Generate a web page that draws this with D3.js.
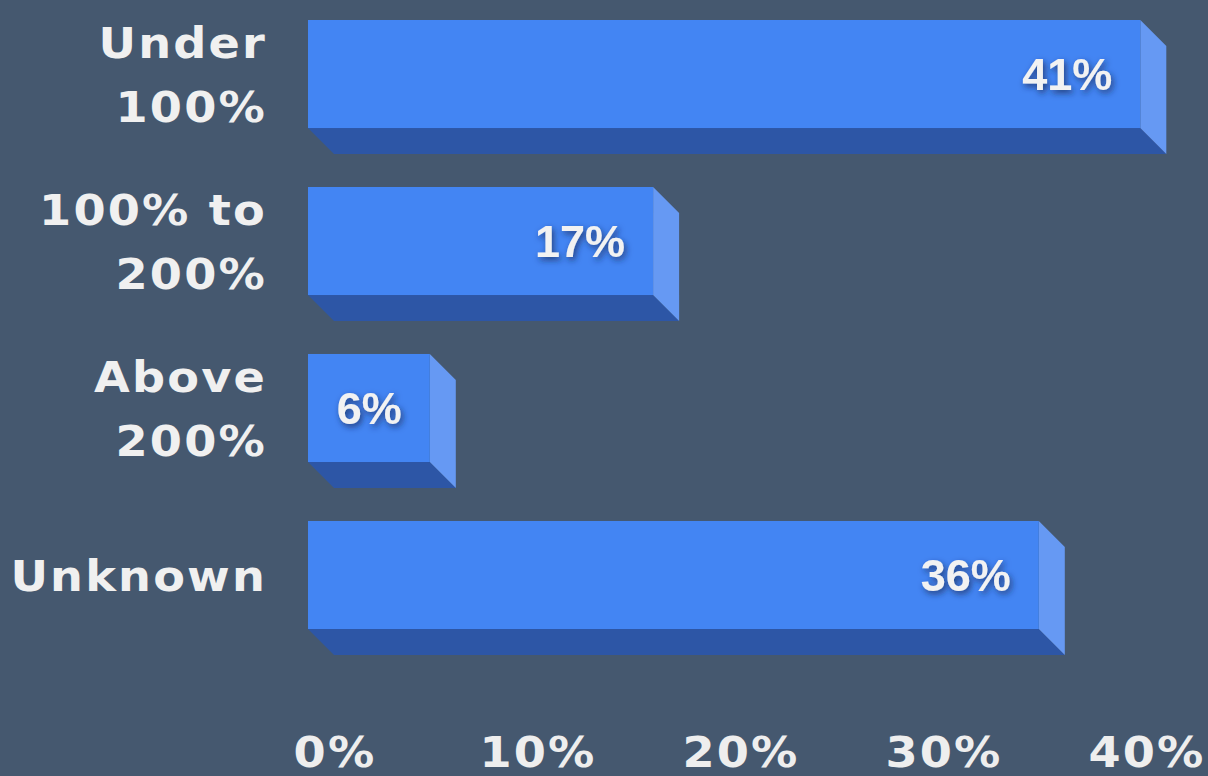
<!DOCTYPE html>
<html>
<head>
<meta charset="utf-8">
<script src="https://cdn.jsdelivr.net/npm/d3@7"></script>
<style>
  html, body { margin: 0; padding: 0; background: #45586f; }
  svg { display: block; }
</style>
</head>
<body>
<div id="chart"></div>
<script>
const categories = [["Under", "100%"], ["100% to", "200%"], ["Above", "200%"], ["Unknown"]];
const values = [41, 17, 6, 36];
const tickValues = [0, 10, 20, 30, 40];

const width = 1208, height = 776;
const depth = 26;
const stretch = 1.1; // Verdana-like wide glyphs

const svg = d3.select("#chart").append("svg")
  .attr("width", width)
  .attr("height", height);

const defs = svg.append("defs");
const shadow = defs.append("filter").attr("id", "txtShadow")
  .attr("x", "-20%").attr("y", "-20%").attr("width", "140%").attr("height", "150%");
shadow.append("feDropShadow")
  .attr("dx", 2).attr("dy", 3).attr("stdDeviation", 3)
  .attr("flood-color", "#1a2a55").attr("flood-opacity", 0.75);

const x = d3.scaleLinear().domain([0, 40]).range([308, 1120]);
const y = d3.scaleBand()
  .domain(d3.range(values.length))
  .range([20, 629])
  .paddingInner(0.353)
  .paddingOuter(0);

const bars = svg.selectAll("g.bar")
  .data(values)
  .enter()
  .append("g")
  .attr("class", "bar");

// bottom face
bars.append("path")
  .attr("fill", "#2d56a6")
  .attr("d", (d, i) => {
    const x0 = x(0), x1 = x(d), yb = y(i) + y.bandwidth();
    return `M${x0},${yb}L${x1},${yb}L${x1 + depth},${yb + depth}L${x0 + depth},${yb + depth}Z`;
  });

// side face
bars.append("path")
  .attr("fill", "#6699f3")
  .attr("d", (d, i) => {
    const x1 = x(d), yt = y(i), yb = y(i) + y.bandwidth();
    return `M${x1},${yt}L${x1 + depth},${yt + depth}L${x1 + depth},${yb + depth}L${x1},${yb}Z`;
  });

// front face
bars.append("rect")
  .attr("x", x(0))
  .attr("y", (d, i) => y(i))
  .attr("width", d => x(d) - x(0))
  .attr("height", y.bandwidth())
  .attr("fill", "#4385f3");

// value labels
bars.append("text")
  .attr("x", d => x(d) - 28)
  .attr("y", (d, i) => y(i) + y.bandwidth() / 2 + 16)
  .attr("text-anchor", "end")
  .attr("font-family", "Liberation Sans, Arial, sans-serif")
  .attr("font-weight", "bold")
  .attr("font-size", "45px")
  .attr("fill", "#f2f2f2")
  .attr("filter", "url(#txtShadow)")
  .text(d => d + "%");

// category labels
const cat = svg.selectAll("text.cat")
  .data(categories)
  .enter()
  .append("text")
  .attr("class", "cat")
  .attr("transform", `translate(267,0) scale(${stretch},1)`)
  .attr("text-anchor", "end")
  .attr("font-family", "DejaVu Sans, Verdana, sans-serif")
  .attr("font-weight", "bold")
  .attr("font-size", "42px")
  .attr("letter-spacing", "2px")
  .attr("fill", "#f0f0f0");

cat.each(function (lines, i) {
  const cy = y(i) + y.bandwidth() / 2;
  const lh = 64;
  const start = cy - (lines.length - 1) * lh / 2 + 16;
  d3.select(this).selectAll("tspan")
    .data(lines)
    .enter()
    .append("tspan")
    .attr("x", 0)
    .attr("y", (l, j) => start + j * lh)
    .text(l => l);
});

// x axis tick labels
svg.selectAll("text.tick")
  .data(tickValues)
  .enter()
  .append("text")
  .attr("class", "tick")
  .attr("transform", d => `translate(${x(d) + depth + 1},767) scale(${stretch},1)`)
  .attr("text-anchor", "middle")
  .attr("font-family", "DejaVu Sans, Verdana, sans-serif")
  .attr("font-weight", "bold")
  .attr("font-size", "42px")
  .attr("letter-spacing", "2px")
  .attr("fill", "#eeeeee")
  .text(d => d + "%");
</script>
</body>
</html>
